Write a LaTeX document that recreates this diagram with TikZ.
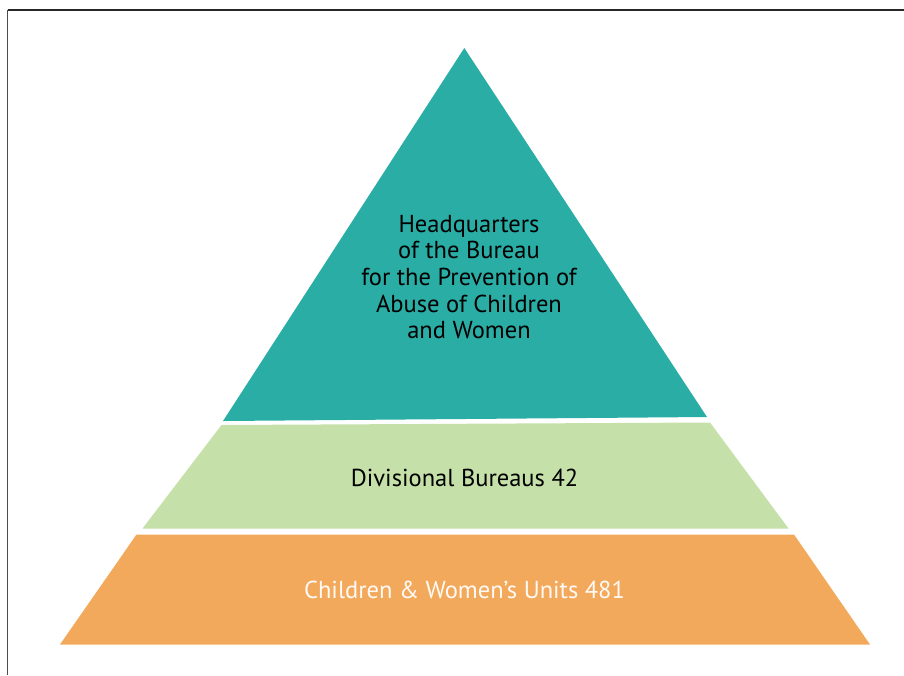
\documentclass[tikz,border=0pt]{standalone}
\usepackage{fontspec}
\setmainfont{PT Sans}
\definecolor{tealtop}{RGB}{42,173,165}
\definecolor{greenmid}{RGB}{197,224,168}
\definecolor{orangelow}{RGB}{243,169,92}
\begin{document}
\begin{tikzpicture}[x=1pt,y=-1pt,
  tier/.style={draw=none},
  label/.style={font=\fontsize{24.5}{26.6}\selectfont, align=center, inner sep=0pt}]
\useasboundingbox (0,0) rectangle (904,675);
% frame
\coordinate (fTL) at (7.5,10);
\coordinate (fTR) at (904,10);
\coordinate (fBL) at (7.5,675);
\draw[line width=1.8pt, black!85] (fTL) -- (fTR);
\draw[line width=1.5pt, black!70] (fTL) -- (fBL);
% pyramid tiers
\fill[tier, tealtop] (464.3,48) -- (707,417) -- (223,421) -- cycle;
\fill[tier, greenmid] (221.5,425) -- (710,422.5) -- (788.5,528.5) -- (142.5,528.5) -- cycle;
\fill[tier, orangelow] (136.5,534.5) -- (794,534.5) -- (870,644.5) -- (60,644.5) -- cycle;
% labels
\node[label] (hq) at (469,277) {Headquarters\\of the Bureau\\for the Prevention of\\Abuse of Children\\and Women};
\node[label] (div) at (464.5,478) {Divisional Bureaus 42};
\node[label, text=white!96!orange] (units) at (464.5,590) {Children \& Women’s Units 481};
\end{tikzpicture}
\end{document}
